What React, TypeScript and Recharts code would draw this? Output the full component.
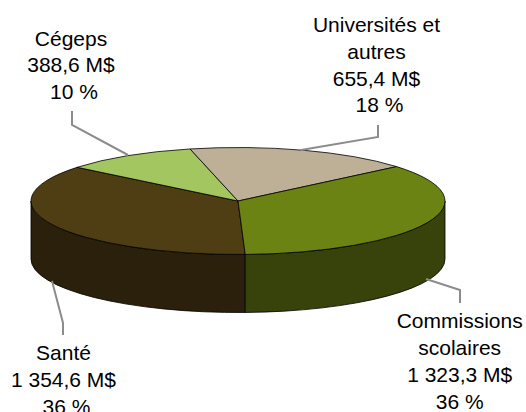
import { Pie, PieChart } from 'recharts';

const categories = ['Santé', 'Cégeps', 'Universités et autres', 'Commissions scolaires'];
const values = [1354.6, 388.6, 655.4, 1323.3];
const nameLines = [['Santé'], ['Cégeps'], ['Universités et', 'autres'], ['Commissions', 'scolaires']];
const valueLabels = ['1 354,6 M$', '388,6 M$', '655,4 M$', '1 323,3 M$'];
const percentLabels = ['\u00a036 %', '\u00a010 %', '\u00a018 %', '36 %'];

const topColors = ['#4f3d13', '#a4c660', '#bdb097', '#6b8312'];
const wallColors = ['#2a200b', '#566a30', '#655e50', '#37430a'];

// label block centre x, first baseline y, then the leader line for each slice
const labelX = [63.5, 71, 376.5, 459.7];
const labelY = [360, 45.5, 32, 328.3];
const leaderLines = [
  '52,281 63,323 63,335',
  '72,111 72,125 128,155',
  '378,125 378,137 301,150',
  '426,279 460,290 460,303',
];

const CX = 238;
const CY = 201;
const RX = 207;
const RY = 53.5;
const DEPTH = 58;
const LINE_STEP = 26.8;

const topData = categories.map((name, i) => ({ name, value: values[i], fill: topColors[i] }));
const wallData = categories.map((name, i) => ({ name, value: values[i], fill: wallColors[i] }));

function rim(angle: number, dy = 0) {
  const rad = (angle * Math.PI) / 180;
  return `${CX + RX * Math.cos(rad)} ${CY + dy - RY * Math.sin(rad)}`;
}

// flattened slice: recharts gives the angles, the path squashes them to an ellipse
function TopSlice(props: any) {
  const { startAngle, endAngle, fill } = props;
  const large = Math.abs(startAngle - endAngle) > 180 ? 1 : 0;
  const d = `M ${CX} ${CY} L ${rim(startAngle)} A ${RX} ${RY} 0 ${large} 1 ${rim(endAngle)} Z`;
  return <path d={d} fill={fill} stroke="#000" strokeWidth={0.8} strokeLinejoin="round" />;
}

// side wall, only the part of the slice on the front half of the disc
function WallSlice(props: any) {
  const { startAngle, endAngle, fill } = props;
  const parts = [-180, 180].map((base) => {
    const hi = Math.min(startAngle, base + 180);
    const lo = Math.max(endAngle, base);
    if (lo >= hi) return null;
    const d =
      `M ${rim(hi)} A ${RX} ${RY} 0 0 1 ${rim(lo)} ` +
      `L ${rim(lo, DEPTH)} A ${RX} ${RY} 0 0 0 ${rim(hi, DEPTH)} Z`;
    return <path key={base} d={d} fill={fill} stroke="#000" strokeWidth={0.8} strokeLinejoin="round" />;
  });
  return <g>{parts}</g>;
}

function SliceLabel(props: any) {
  const i = props.index;
  const lines = [...nameLines[i], valueLabels[i], percentLabels[i]];
  return (
    <g>
      <polyline points={leaderLines[i]} fill="none" stroke="#8c8c8c" strokeWidth={2} />
      {lines.map((line, k) => (
        <text
          key={k}
          x={labelX[i]}
          y={labelY[i] + k * LINE_STEP}
          textAnchor="middle"
          fontFamily="'Liberation Sans', Arial, sans-serif"
          fontSize={21}
          fill="#000"
        >
          {line}
        </text>
      ))}
    </g>
  );
}

export default function App() {
  return (
    <div style={{ position: 'absolute', left: 0, top: 0, width: 526, height: 412, overflow: 'hidden', background: '#fff' }}>
      <PieChart width={526} height={412} margin={{ top: 0, right: 0, bottom: 0, left: 0 }}>
        <Pie
          data={wallData}
          dataKey="value"
          nameKey="name"
          cx={CX}
          cy={CY}
          outerRadius={RX}
          startAngle={272}
          endAngle={-88}
          shape={WallSlice}
          isAnimationActive={false}
        />
        <Pie
          data={topData}
          dataKey="value"
          nameKey="name"
          cx={CX}
          cy={CY}
          outerRadius={RX}
          startAngle={272}
          endAngle={-88}
          shape={TopSlice}
          label={SliceLabel}
          labelLine={false}
          isAnimationActive={false}
        />
      </PieChart>
    </div>
  );
}
